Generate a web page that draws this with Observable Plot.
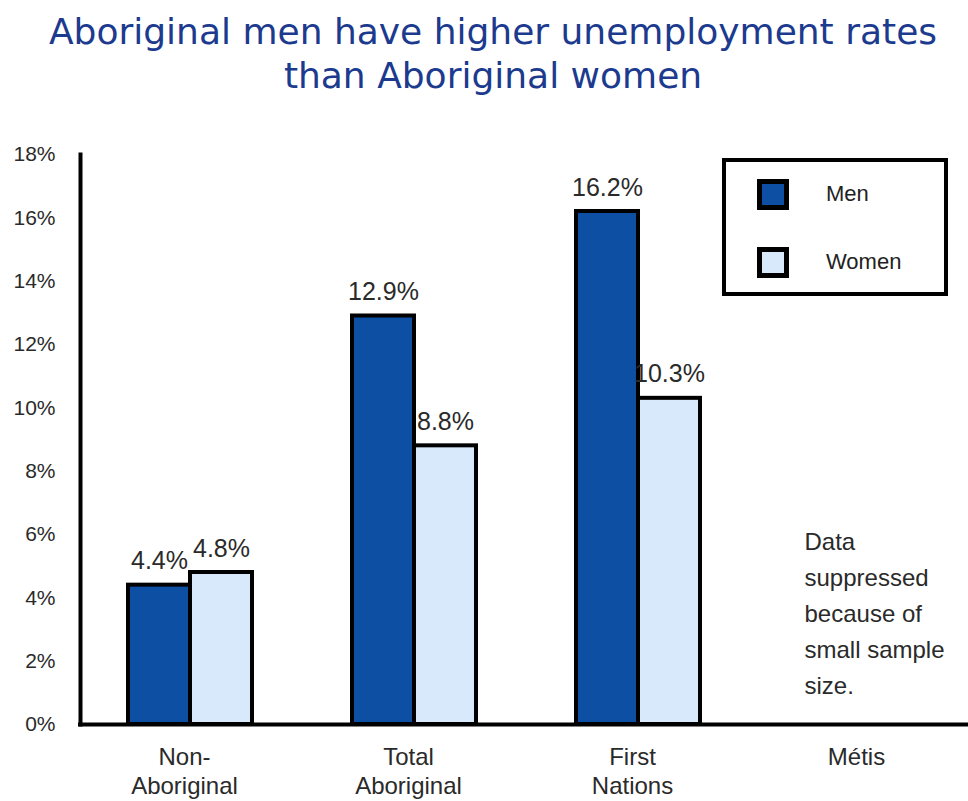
<!DOCTYPE html>
<html>
<head>
<meta charset="utf-8">
<script src="https://cdn.jsdelivr.net/npm/d3@7"></script>
<script src="https://cdn.jsdelivr.net/npm/@observablehq/plot@0.6"></script>
<style>
  html, body { margin: 0; padding: 0; background: #fff; overflow: hidden; }
  #wrap { position: relative; width: 968px; height: 801px; }
  #title {
    height: 110px; box-sizing: border-box; padding-top: 10px; padding-left: 18px;
    font-family: "DejaVu Sans", sans-serif; font-size: 36px; line-height: 44px;
    color: #1c3a8e; text-align: center; white-space: nowrap;
  }
  #legend {
    position: absolute; left: 722px; top: 158px; width: 226px; height: 138px;
    box-sizing: border-box; border: 4px solid #000; background: #fff;
    font-family: "Liberation Sans", Arial, sans-serif; font-size: 22px; color: #222;
  }
  .item { position: absolute; left: 31px; height: 32px; display: flex; align-items: center; }
  .sw { width: 32px; height: 31px; box-sizing: border-box; border: 5px solid #000; margin-right: 37px; }
</style>
</head>
<body>
<div id="wrap">
  <div id="title">Aboriginal men have higher unemployment rates<br>than Aboriginal women</div>
  <div id="chart"></div>
  <div id="legend"></div>
</div>
<script>
const categories = ["Non-Aboriginal", "Total Aboriginal", "First Nations", "Métis"];
const categoryLabels = ["Non-\nAboriginal", "Total\nAboriginal", "First\nNations", "Métis"];
const series = ["Men", "Women"];
const menValues = [4.4, 12.9, 16.2, null];
const womenValues = [4.8, 8.8, 10.3, null];
const seriesColors = ["#0d4fa3", "#d7e9fb"];
const yTicks = [0, 2, 4, 6, 8, 10, 12, 14, 16, 18];
const noteCategory = "Métis";
const noteText = "Data\nsuppressed\nbecause of\nsmall sample\nsize.";

const data = [];
categories.forEach((c, i) => {
  if (menValues[i] != null) data.push({category: c, sex: "Men", value: menValues[i]});
  if (womenValues[i] != null) data.push({category: c, sex: "Women", value: womenValues[i]});
});
const labelOf = new Map(categories.map((c, i) => [c, categoryLabels[i]]));

const chart = Plot.plot({
  width: 968,
  height: 691,
  marginLeft: 78,
  marginRight: 0,
  marginTop: 44,
  marginBottom: 77,
  style: {fontFamily: "'Liberation Sans', Arial, sans-serif", color: "#2a2a2a", background: "transparent"},
  fx: {domain: categories, range: [78, 974], padding: 0},
  x: {domain: series, paddingInner: 0, paddingOuter: 0.806, axis: null},
  y: {domain: [0, 18]},
  color: {domain: series, range: seriesColors},
  marks: [
    Plot.axisY({ticks: yTicks, tickSize: 0, tickPadding: 23, tickFormat: d => d + "%", fontSize: 21, label: null}),
    Plot.axisFx({anchor: "bottom", tickSize: 0, tickPadding: 20, fontSize: 24, lineHeight: 1.2, dx: -6,
                 tickFormat: d => labelOf.get(d), label: null}),
    Plot.barY(data, {fx: "category", x: "sex", y: "value", fill: "sex", stroke: "#000", strokeWidth: 4}),
    Plot.text(data, {fx: "category", x: "sex", y: "value", text: d => d.value.toFixed(1) + "%",
                     lineAnchor: "bottom", dy: -16, fontSize: 25, fill: "#2a2a2a"}),
    Plot.text([{category: noteCategory, note: noteText}], {fx: "category", text: "note",
                     frameAnchor: "bottom-left", textAnchor: "start", lineAnchor: "bottom",
                     dx: 54, dy: -31, fontSize: 24, lineHeight: 1.5, fill: "#2a2a2a"}),
    Plot.ruleY([0], {stroke: "#000", strokeWidth: 4}),
    Plot.frame({anchor: "left", facetAnchor: "left", stroke: "#000", strokeWidth: 4, dx: 2})
  ]
});
document.getElementById("chart").appendChild(chart);

const legend = document.getElementById("legend");
series.forEach((s, i) => {
  const item = document.createElement("div");
  item.className = "item";
  item.style.top = (i === 0 ? 16 : 84) + "px";
  const sw = document.createElement("div");
  sw.className = "sw";
  sw.style.background = seriesColors[i];
  const lab = document.createElement("span");
  lab.textContent = s;
  item.appendChild(sw);
  item.appendChild(lab);
  legend.appendChild(item);
});
</script>
</body>
</html>
